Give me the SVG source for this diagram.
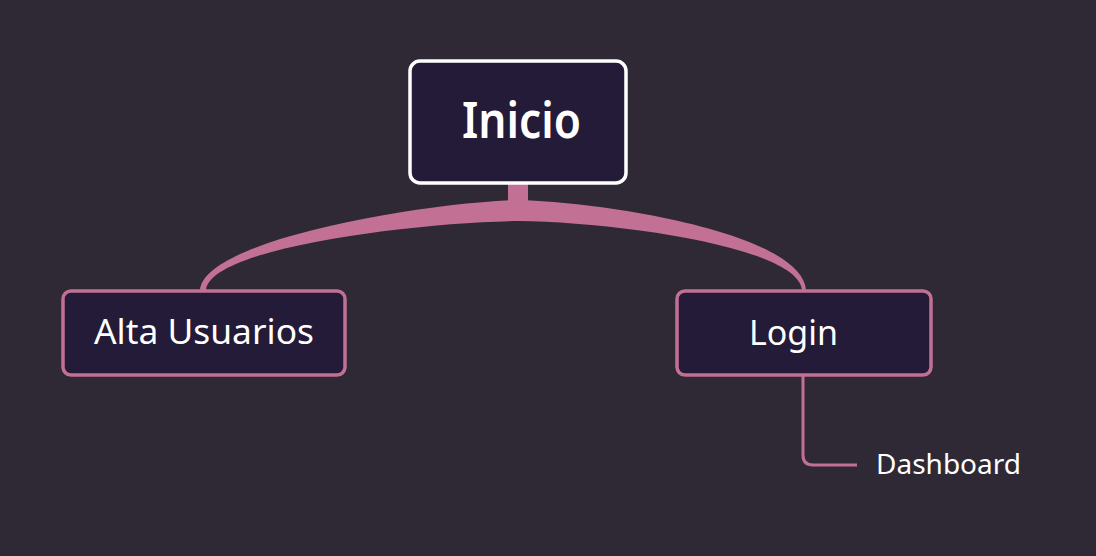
<svg xmlns="http://www.w3.org/2000/svg" width="1096" height="556" viewBox="0 0 1096 556">
<style>
.box{fill:#231b37;stroke:#c27094;stroke-width:3.5}
.root{fill:#231b37;stroke:#ffffff;stroke-width:3.5}
.t{font-family:"Noto Sans","Liberation Sans",sans-serif;fill:#ffffff}
.line{fill:none;stroke:#c27094;stroke-width:3}
</style>
<rect width="1096" height="556" fill="#2e2935"/>
<g id="connectors">
<rect x="508" y="183" width="20" height="22" fill="#c27094"/>
<path d="M 200 290 C 204 240, 420 203, 518 200 C 616 203, 802 235, 806 290 L 802 290 C 798 247, 616 222, 518 221 C 420 222, 210 247, 206 290 Z" fill="#c27094"/>
<path class="line" d="M 803 375 L 803 455 Q 803 465 813 465 L 857 465"/>
</g>
<g id="inicio">
<rect class="root" x="410" y="61" width="216" height="122" rx="10"/>
<text class="t" x="521.5" y="138" font-size="51" font-weight="600" text-anchor="middle" textLength="119" lengthAdjust="spacingAndGlyphs">Inicio</text>
</g>
<g id="alta">
<rect class="box" x="63" y="291" width="282" height="84" rx="8"/>
<text class="t" x="204" y="344" font-size="35" text-anchor="middle" textLength="220" lengthAdjust="spacingAndGlyphs">Alta Usuarios</text>
</g>
<g id="login">
<rect class="box" x="677" y="291" width="254" height="84" rx="8"/>
<text class="t" x="793.5" y="345" font-size="35" text-anchor="middle" textLength="89" lengthAdjust="spacingAndGlyphs">Login</text>
</g>
<g id="dashboard">
<text class="t" x="876" y="474" font-size="27" textLength="145" lengthAdjust="spacingAndGlyphs">Dashboard</text>
</g>
</svg>
